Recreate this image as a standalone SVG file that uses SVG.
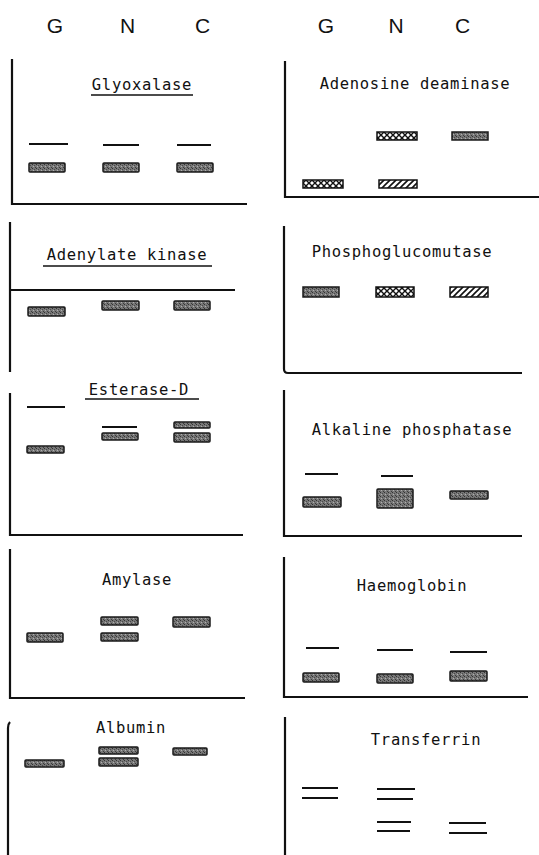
<svg xmlns="http://www.w3.org/2000/svg" width="539" height="855" viewBox="0 0 539 855">
<defs>
<pattern id="mot" width="4" height="4" patternUnits="userSpaceOnUse">
<rect width="4" height="4" fill="#777"/>
<rect x="0" y="0" width="1" height="1" fill="#333"/>
<rect x="2" y="1" width="1" height="1" fill="#4a4a4a"/>
<rect x="1" y="2" width="1" height="1" fill="#b0b0b0"/>
<rect x="3" y="3" width="1" height="1" fill="#3c3c3c"/>
</pattern>
<pattern id="chk" width="6" height="6" patternUnits="userSpaceOnUse">
<rect width="6" height="6" fill="#fff"/>
<path d="M0 0L6 6M6 0L0 6" stroke="#111" stroke-width="1.4"/>
</pattern>
<pattern id="dia" width="6" height="6" patternUnits="userSpaceOnUse">
<rect width="6" height="6" fill="#fff"/>
<path d="M-1 7L7 -1M-4 4L4 -4M2 10L10 2" stroke="#111" stroke-width="1.6"/>
</pattern>
</defs>
<style>
.hd{font-family:"Liberation Sans",Arial,sans-serif;font-size:21px;fill:#111;text-anchor:middle}
.t{font-family:"DejaVu Sans Mono","Liberation Mono",monospace;font-size:15.5px;letter-spacing:0.7px;fill:#111;text-anchor:middle}
.ax{fill:none;stroke:#111;stroke-width:2.2}
.ul{stroke:#111;stroke-width:1.5}
.ln{stroke:#111;stroke-width:2}
.b{fill:url(#mot);stroke:#1a1a1a;stroke-width:1.5}
.bc{fill:url(#chk);stroke:#111;stroke-width:1.5}
.bd{fill:url(#dia);stroke:#111;stroke-width:1.5}
</style>
<rect width="539" height="855" fill="#fff"/>
<g id="header-left">
<text class="hd" x="55" y="33">G</text>
<text class="hd" x="127.5" y="33">N</text>
<text class="hd" x="202.5" y="33">C</text>
</g>
<g id="header-right">
<text class="hd" x="326" y="33">G</text>
<text class="hd" x="396" y="33">N</text>
<text class="hd" x="462.5" y="33">C</text>
</g>

<g id="glyoxalase">
<path class="ax" d="M12 59V204H247"/>
<text class="t" x="142" y="90">Glyoxalase</text>
<line class="ul" x1="91" y1="95" x2="193" y2="95"/>
<line class="ln" x1="29" y1="144" x2="68" y2="144"/>
<line class="ln" x1="103" y1="145" x2="139" y2="145"/>
<line class="ln" x1="177" y1="145" x2="211" y2="145"/>
<rect class="b" x="29" y="163" width="36" height="9" rx="1"/>
<rect class="b" x="103" y="163" width="36" height="9" rx="1"/>
<rect class="b" x="177" y="163" width="36" height="9" rx="1"/>
</g>

<g id="adenosine-deaminase">
<path class="ax" d="M285 61V197H539"/>
<text class="t" x="415" y="89">Adenosine deaminase</text>
<rect class="bc" x="377" y="132" width="40" height="8"/>
<rect class="b" x="452" y="132" width="36" height="8"/>
<rect class="bc" x="303" y="180" width="40" height="8"/>
<rect class="bd" x="379" y="180" width="38" height="8"/>
</g>

<g id="adenylate-kinase">
<path class="ax" d="M10 222V372"/>
<line class="ln" x1="10" y1="290" x2="235" y2="290"/>
<text class="t" x="127" y="260">Adenylate kinase</text>
<line class="ul" x1="43" y1="266" x2="212" y2="266"/>
<rect class="b" x="28" y="307" width="37" height="9" rx="1"/>
<rect class="b" x="102" y="301" width="37" height="9" rx="1"/>
<rect class="b" x="174" y="301" width="36" height="9" rx="1"/>
</g>

<g id="phosphoglucomutase">
<path class="ax" d="M284 226V369Q284 373 288 373H522"/>
<text class="t" x="402" y="257">Phosphoglucomutase</text>
<rect class="b" x="303" y="287" width="36" height="10"/>
<rect class="bc" x="376" y="287" width="38" height="10"/>
<rect class="bd" x="450" y="287" width="38" height="10"/>
</g>

<g id="esterase-d">
<path class="ax" d="M10 393V535H243"/>
<text class="t" x="139" y="395">Esterase-D</text>
<line class="ul" x1="85" y1="399" x2="199" y2="399"/>
<line class="ln" x1="27" y1="407" x2="65" y2="407"/>
<rect class="b" x="27" y="446" width="37" height="7" rx="1"/>
<line class="ln" x1="102" y1="427" x2="137" y2="427" stroke-width="2.6"/>
<rect class="b" x="102" y="433" width="36" height="7" rx="1"/>
<rect class="b" x="174" y="422" width="36" height="6" rx="1"/>
<rect class="b" x="174" y="433" width="36" height="9" rx="1"/>
</g>

<g id="alkaline-phosphatase">
<path class="ax" d="M284 390V536H522"/>
<text class="t" x="412" y="435">Alkaline phosphatase</text>
<line class="ln" x1="305" y1="474" x2="338" y2="474"/>
<line class="ln" x1="381" y1="476" x2="413" y2="476"/>
<rect class="b" x="303" y="497" width="38" height="10" rx="1"/>
<rect class="b" x="377" y="489" width="36" height="19" rx="1"/>
<rect class="b" x="450" y="491" width="38" height="8" rx="1"/>
</g>

<g id="amylase">
<path class="ax" d="M10 549V698H245"/>
<text class="t" x="137" y="585">Amylase</text>
<rect class="b" x="101" y="617" width="37" height="8" rx="1"/>
<rect class="b" x="173" y="617" width="37" height="10" rx="1"/>
<rect class="b" x="27" y="633" width="36" height="9" rx="1"/>
<rect class="b" x="101" y="633" width="37" height="8" rx="1"/>
</g>

<g id="haemoglobin">
<path class="ax" d="M284 557V697H528"/>
<text class="t" x="412" y="591">Haemoglobin</text>
<line class="ln" x1="306" y1="648" x2="339" y2="648"/>
<line class="ln" x1="377" y1="650" x2="413" y2="650"/>
<line class="ln" x1="450" y1="652" x2="487" y2="652"/>
<rect class="b" x="303" y="673" width="36" height="9" rx="1"/>
<rect class="b" x="377" y="674" width="36" height="9" rx="1"/>
<rect class="b" x="450" y="671" width="37" height="10" rx="1"/>
</g>

<g id="albumin">
<path class="ax" d="M10 722Q8 724 8 728V855"/>
<text class="t" x="131" y="733">Albumin</text>
<rect class="b" x="99" y="747" width="39" height="7" rx="1"/>
<rect class="b" x="173" y="748" width="34" height="7" rx="1"/>
<rect class="b" x="25" y="760" width="39" height="7" rx="1"/>
<rect class="b" x="99" y="758" width="39" height="8" rx="1"/>
</g>

<g id="transferrin">
<path class="ax" d="M285 717V855"/>
<text class="t" x="426" y="745">Transferrin</text>
<line class="ln" x1="302" y1="788" x2="338" y2="788"/>
<line class="ln" x1="302" y1="798" x2="338" y2="798"/>
<line class="ln" x1="377" y1="789" x2="415" y2="789" stroke-width="2.8"/>
<line class="ln" x1="377" y1="799" x2="413" y2="799"/>
<line class="ln" x1="377" y1="822" x2="411" y2="822"/>
<line class="ln" x1="377" y1="831" x2="410" y2="831"/>
<line class="ln" x1="449" y1="823" x2="486" y2="823"/>
<line class="ln" x1="449" y1="833" x2="487" y2="833" stroke-width="2.8"/>
</g>
</svg>
